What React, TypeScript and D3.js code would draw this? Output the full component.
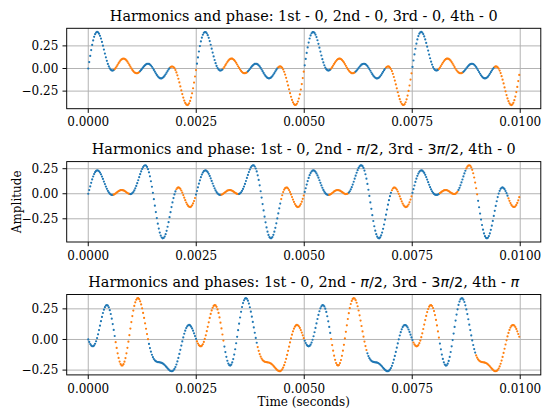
import React from "react";
import * as d3 from "d3";

// ---- data ----
const SAMPLE_RATE = 44100;
const DURATION = 0.01;
const FUNDAMENTAL_HZ = 400;
const harmonicNumbers = [1, 2, 3, 4];
const harmonicAmplitudes = [0.125, 0.125, 0.125, 0.125];

const panel1Phases = [0, 0, 0, 0];
const panel2Phases = [0, Math.PI / 2, (3 * Math.PI) / 2, 0];
const panel3Phases = [0, Math.PI / 2, (3 * Math.PI) / 2, Math.PI];

// times (s) where the dot colour switches
const panel1Splits = [0.00061, 0.00118, 0.00189, 0.0025, 0.00311, 0.00368, 0.00439, 0.005, 0.00561, 0.00618, 0.00689, 0.0075, 0.00811, 0.00868, 0.00939];
const panel2Splits = [0.00058, 0.00097, 0.00202, 0.00248, 0.00307, 0.00348, 0.00446, 0.005, 0.00556, 0.00602, 0.00702, 0.00749, 0.00812, 0.00855, 0.00874, 0.00901, 0.00971];
const panel3Splits = [0.00062, 0.00139, 0.0025, 0.00314, 0.00392, 0.005, 0.00562, 0.00644, 0.00752, 0.00814, 0.00896];

const titles = [
  "Harmonics and phase: 1st - 0, 2nd - 0, 3rd - 0, 4th - 0",
  "Harmonics and phase: 1st - 0, 2nd - $\\pi/2$, 3rd - $3\\pi/2$, 4th - 0",
  "Harmonics and phases: 1st - 0, 2nd - $\\pi/2$, 3rd - $3\\pi/2$, 4th - $\\pi$",
];

const xTickValues = [0, 0.0025, 0.005, 0.0075, 0.01];
const yTickValues = [-0.25, 0, 0.25];
const xLabel = "Time (seconds)";
const yLabel = "Amplitude";
const seriesColors = ["#1f77b4", "#ff7f0e"];

// ---- layout ----
const W = 542;
const H = 410;
const axLeft = 66.7;
const axRight = 540.8;
const panelTops = [28.3, 161.6, 294.5];
const panelH = 80.4;
const FONT = "DejaVu Serif, serif";

const times: number[] = d3
  .range(0, Math.round(DURATION * SAMPLE_RATE) + 1)
  .map((i) => i / SAMPLE_RATE)
  .filter((t) => t < DURATION);

function synth(phases: number[]) {
  return times.map((t) =>
    harmonicNumbers.reduce(
      (s, k, j) => s + harmonicAmplitudes[j] * Math.sin(2 * Math.PI * FUNDAMENTAL_HZ * k * t + phases[j]),
      0
    )
  );
}

const panels = [
  { values: synth(panel1Phases), splits: panel1Splits, title: titles[0] },
  { values: synth(panel2Phases), splits: panel2Splits, title: titles[1] },
  { values: synth(panel3Phases), splits: panel3Splits, title: titles[2] },
];

function pad(ext: [number, number]): [number, number] {
  const r = ext[1] - ext[0];
  return [ext[0] - 0.05 * r, ext[1] + 0.05 * r];
}

const xScale = d3
  .scaleLinear()
  .domain(pad(d3.extent(times) as [number, number]))
  .range([axLeft, axRight]);

const fmtX = d3.format(".4f");
const fmtY = (v: number) => d3.format(".2f")(v).replace("-", "\u2212");

function Title({ text, x, y }: { text: string; x: number; y: number }) {
  const parts = text.split("$");
  return (
    <text x={x} y={y} textAnchor="middle" fontFamily={FONT} fontSize={14.4} fill="#000">
      {parts.map((p, i) => {
        if (i % 2 === 0) return <tspan key={i}>{p}</tspan>;
        const m = p.replace(/\\pi/g, "π");
        return m
          .split(/(π)/)
          .filter((s) => s.length)
          .map((s, j) => (
            <tspan key={i + "-" + j} fontFamily="DejaVu Sans, sans-serif" fontStyle={s === "π" ? "italic" : "normal"}>
              {s}
            </tspan>
          ));
      })}
    </text>
  );
}

function Panel({ idx }: { idx: number }) {
  const p = panels[idx];
  const top = panelTops[idx];
  const bottom = top + panelH;
  const yScale = d3
    .scaleLinear()
    .domain(pad(d3.extent(p.values) as [number, number]))
    .range([bottom, top]);
  const clipId = "clip" + idx;
  return (
    <g>
      <defs>
        <clipPath id={clipId}>
          <rect x={axLeft} y={top} width={axRight - axLeft} height={panelH} />
        </clipPath>
      </defs>
      {xTickValues.map((v) => (
        <line key={"gx" + v} x1={xScale(v)} x2={xScale(v)} y1={top} y2={bottom} stroke="#b0b0b0" strokeWidth={0.96} />
      ))}
      {yTickValues.map((v) => (
        <line key={"gy" + v} x1={axLeft} x2={axRight} y1={yScale(v)} y2={yScale(v)} stroke="#b0b0b0" strokeWidth={0.96} />
      ))}
      <g clipPath={`url(#${clipId})`}>
        {times.map((t, i) => (
          <circle
            key={i}
            cx={xScale(t)}
            cy={yScale(p.values[i])}
            r={1.1}
            fill={seriesColors[d3.bisectRight(p.splits, t) % 2]}
          />
        ))}
      </g>
      <rect x={axLeft} y={top} width={axRight - axLeft} height={panelH} fill="none" stroke="#000" strokeWidth={0.96} />
      {xTickValues.map((v) => (
        <g key={"tx" + v}>
          <line x1={xScale(v)} x2={xScale(v)} y1={bottom} y2={bottom + 4.2} stroke="#000" strokeWidth={0.96} />
          <text x={xScale(v)} y={bottom + 17.6} textAnchor="middle" fontFamily={FONT} fontSize={12} fill="#000">
            {fmtX(v)}
          </text>
        </g>
      ))}
      {yTickValues.map((v) => (
        <g key={"ty" + v}>
          <line x1={axLeft - 4.2} x2={axLeft} y1={yScale(v)} y2={yScale(v)} stroke="#000" strokeWidth={0.96} />
          <text x={axLeft - 8.4} y={yScale(v)} dy="0.36em" textAnchor="end" fontFamily={FONT} fontSize={12} fill="#000">
            {fmtY(v)}
          </text>
        </g>
      ))}
      <Title text={p.title} x={(axLeft + axRight) / 2} y={top - 7.2} />
    </g>
  );
}

export default function App() {
  const midY = (panelTops[1] + panelTops[1] + panelH) / 2;
  return (
    <svg
      width={W}
      height={H}
      viewBox={`0 0 ${W} ${H}`}
      style={{ position: "absolute", left: 0, top: 0, background: "#fff" }}
    >
      <rect x={0} y={0} width={W} height={H} fill="#fff" />
      {panels.map((_, i) => (
        <Panel key={i} idx={i} />
      ))}
      <text x={(axLeft + axRight) / 2} y={406} textAnchor="middle" fontFamily={FONT} fontSize={12} fill="#000">
        {xLabel}
      </text>
      <text
        transform={`translate(${21},${midY}) rotate(-90)`}
        textAnchor="middle"
        fontFamily={FONT}
        fontSize={12}
        fill="#000"
      >
        {yLabel}
      </text>
    </svg>
  );
}
